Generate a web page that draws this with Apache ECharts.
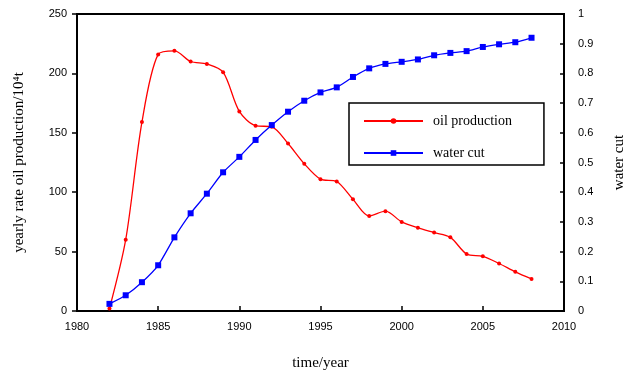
<!DOCTYPE html>
<html><head><meta charset="utf-8">
<script src="https://cdn.jsdelivr.net/npm/echarts@6/dist/echarts.min.js"></script>
<style>html,body{margin:0;padding:0;background:#fff}#c{width:627px;height:374px}</style>
</head><body><div id="c"></div>
<script>
const years = [1982,1983,1984,1985,1986,1987,1988,1989,1990,1991,1992,1993,1994,1995,1996,1997,1998,1999,2000,2001,2002,2003,2004,2005,2006,2007,2008];
const oilProduction = [2,60,159,216,219,210,208,201,168,156,155,141,124,111,109,94,80,84,75,70,66,62,48,46,40,33,27];
const waterCut = [0.024,0.053,0.097,0.154,0.248,0.329,0.395,0.467,0.519,0.576,0.626,0.671,0.708,0.736,0.753,0.788,0.817,0.832,0.839,0.847,0.861,0.869,0.875,0.889,0.898,0.905,0.920];
const seriesNames = ['oil production','water cut'];

const chart = echarts.init(document.getElementById('c'));
const tickFont = {fontFamily:'Liberation Sans', fontSize:11, color:'#000'};
chart.setOption({
  animation:false,
  grid:{left:77, right:63, top:14, bottom:63, outerBoundsMode:'none', containLabel:false, show:true, borderColor:'#000', borderWidth:2, backgroundColor:'transparent'},
  legend:{
    orient:'vertical', left:349, top:103,
    padding:[10,32,4,14], itemGap:16, itemWidth:59, itemHeight:7,
    borderColor:'#000', borderWidth:1.5, backgroundColor:'#fff',
    textStyle:{fontFamily:'Liberation Serif', fontSize:14, color:'#000', padding:[0,0,0,5], lineHeight:16},
    data:seriesNames
  },
  xAxis:{
    type:'value', min:1980, max:2010, interval:5,
    name:'time/year', nameLocation:'middle', nameGap:45,
    nameTextStyle:{fontFamily:'Liberation Serif', fontSize:15, color:'#000'},
    axisLine:{lineStyle:{color:'#000', width:2}},
    axisTick:{inside:true, length:5, lineStyle:{color:'#000', width:1.5}},
    axisLabel:Object.assign({margin:10, formatter:v=>String(v)}, tickFont),
    splitLine:{show:false}
  },
  yAxis:[{
    type:'value', min:0, max:250, interval:50,
    name:'yearly rate oil production/10\u2074t', nameLocation:'middle', nameGap:50,
    nameTextStyle:{fontFamily:'Liberation Serif', fontSize:15, color:'#000'},
    axisLine:{show:true, lineStyle:{color:'#000', width:2}},
    axisTick:{show:true, length:5, lineStyle:{color:'#000', width:1.5}},
    axisLabel:Object.assign({margin:10}, tickFont),
    splitLine:{show:false}
  },{
    type:'value', min:0, max:1, interval:0.1,
    name:'water cut', nameLocation:'middle', nameGap:48,
    nameTextStyle:{fontFamily:'Liberation Serif', fontSize:15, color:'#000'},
    axisLine:{show:true, lineStyle:{color:'#000', width:2}},
    axisTick:{show:true, inside:true, length:4, lineStyle:{color:'#000', width:1.5}},
    axisLabel:Object.assign({margin:14, formatter:v=>v===0||v===1?String(v):v.toFixed(1)}, tickFont),
    splitLine:{show:false}
  }],
  series:[{
    name:seriesNames[0], type:'line', yAxisIndex:0, smooth:0.3,
    data:years.map((y,i)=>[y,oilProduction[i]]),
    symbol:'circle', symbolSize:4,
    lineStyle:{color:'#ff0000', width:1.3}, itemStyle:{color:'#ff0000'}
  },{
    name:seriesNames[1], type:'line', yAxisIndex:1, smooth:0.2,
    data:years.map((y,i)=>[y,waterCut[i]]),
    symbol:'rect', symbolSize:6,
    lineStyle:{color:'#0000ff', width:1.3}, itemStyle:{color:'#0000ff'}
  }]
});
</script></body></html>
